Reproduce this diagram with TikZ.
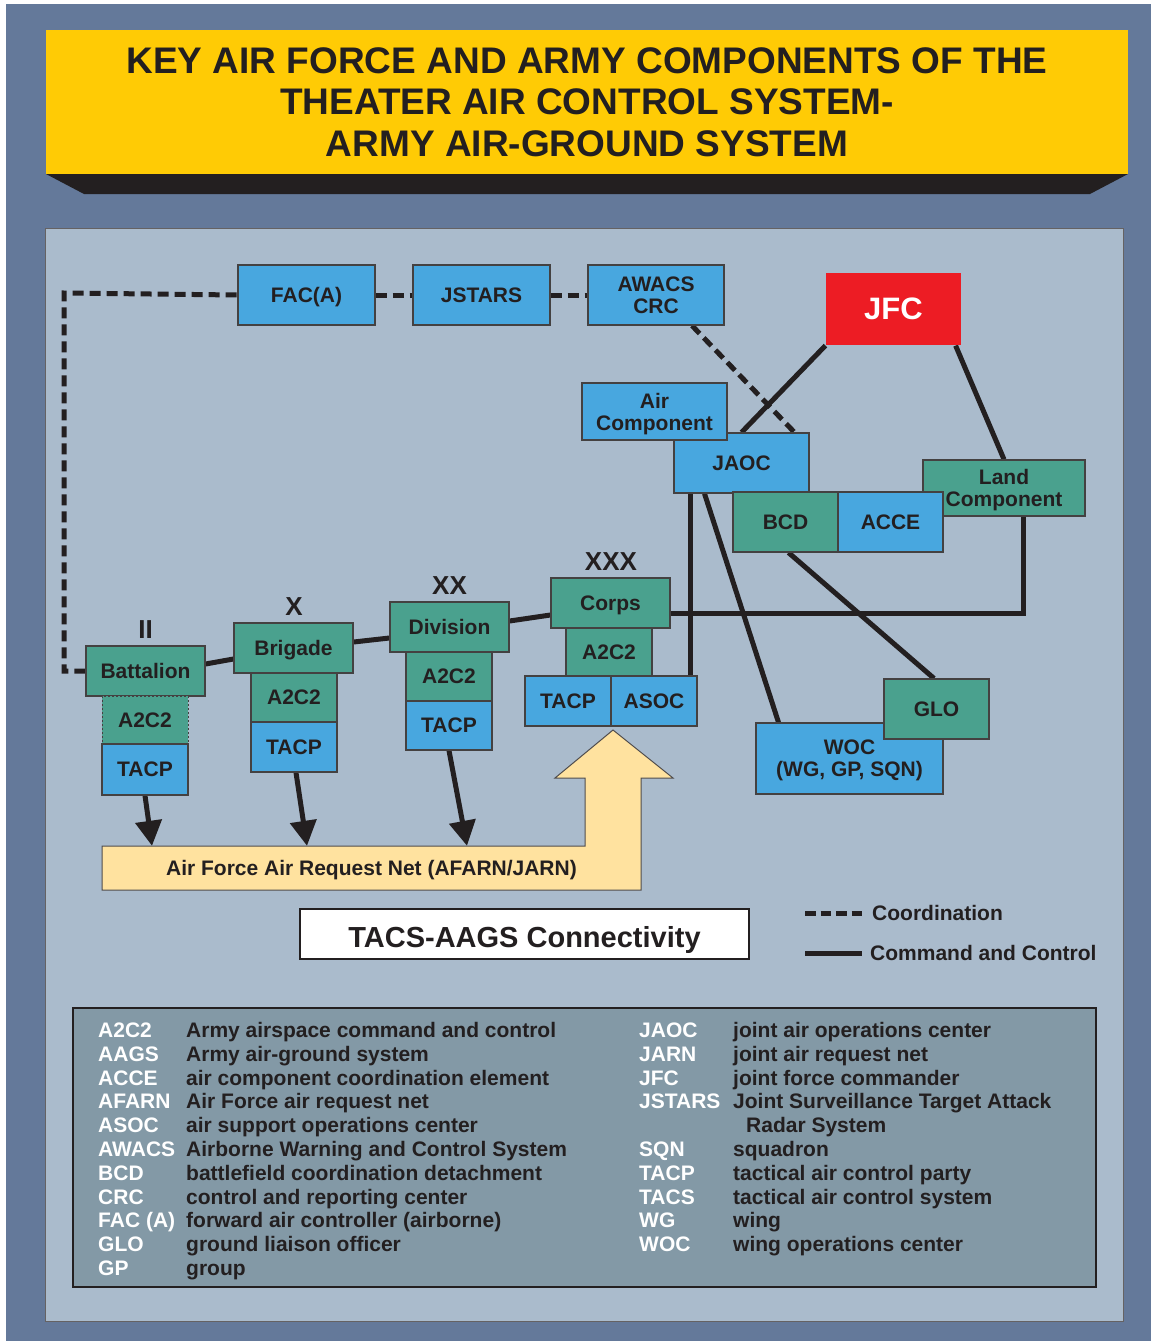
\documentclass[tikz,border=0pt]{standalone}
\usepackage{fontspec}
\setmainfont{Liberation Sans}
\usetikzlibrary{arrows.meta}
\pgfdeclarelayer{bg}
\pgfdeclarelayer{lines}
\pgfsetlayers{bg,lines,main}
\definecolor{slate}{HTML}{64799A}
\definecolor{panel}{HTML}{AABBCC}
\definecolor{ttl}{HTML}{FFCB05}
\definecolor{bl}{HTML}{48A7DF}
\definecolor{gr}{HTML}{4AA18E}
\definecolor{jred}{HTML}{ED1C24}
\definecolor{reqtan}{HTML}{FFE29F}
\definecolor{gls}{HTML}{8399A6}
\definecolor{ink}{HTML}{231F20}
\newcommand\fsz[2]{\fontsize{#1}{#2}\selectfont}
\begin{document}
\begin{tikzpicture}[x=1pt,y=-1pt,
  nbox/.style={draw=ink!85, line width=1.2pt, inner sep=0pt, align=center, text=ink, text depth=0pt, font=\bfseries\fsz{21}{22}},
  bbox/.style={nbox, fill=bl},
  gbox/.style={nbox, fill=gr},
  cc/.style={draw=ink, line width=5pt},
  coordln/.style={draw=ink, line width=5pt, dash pattern=on 11pt off 6pt},
  rank/.style={font=\bfseries\fsz{26}{28}, text=ink, inner sep=0pt},
  ab/.style={anchor=base west, inner sep=0pt, text=white, font=\bfseries\fsz{21}{22}},
  df/.style={anchor=base west, inner sep=0pt, text=ink, font=\bfseries\fsz{21}{22}},
  lgtext/.style={anchor=west, inner sep=0pt, text=ink, font=\bfseries\fsz{21}{22}}
  ]
\useasboundingbox (0,0) rectangle (1151,1341);
\begin{pgfonlayer}{bg}
  \fill[white] (0,0) rectangle (1151,1341);
  \fill[slate] (6,4) rectangle (1151,1341);
  % title
  \fill[ink] (46,174) -- (1128,174) -- (1090,194) -- (84,194) -- cycle;
  \fill[ttl] (46,30) rectangle (1128,174);
  % panel
  \filldraw[fill=panel, draw=ink!70, line width=1pt] (45,228) rectangle (1123,1321);
  % request net with up arrow
  \filldraw[fill=reqtan, draw=ink!80, line width=1pt]
    (102,890) -- (641,890) -- (641,778) -- (673,778) -- (613,730) -- (555,778)
    -- (585,778) -- (585,846) -- (102,846) -- cycle;
  % glossary box
  \filldraw[fill=gls, draw=ink, line width=2.5pt] (73,1008) rectangle (1096,1287);
\end{pgfonlayer}

\node[font=\bfseries\fsz{37}{41.5}, align=center, text=ink, inner sep=0pt] (title) at (587,102)
  {KEY AIR FORCE AND ARMY COMPONENTS OF THE\\THEATER AIR CONTROL SYSTEM-\\ARMY AIR-GROUND SYSTEM};

% top row
\node[bbox, minimum width=137pt, minimum height=60pt] (fac) at (306.5,295) {FAC(A)};
\node[bbox, minimum width=137pt, minimum height=60pt] (jstars) at (481.5,295) {JSTARS};
\node[bbox, minimum width=136pt, minimum height=60pt] (awacs) at (656,295) {AWACS\\CRC};
\node[nbox, fill=jred, draw=none, text=white, font=\bfseries\fsz{31}{32}, minimum width=135pt, minimum height=72pt] (jfc) at (893.5,309) {JFC};

% air side
\node[bbox, minimum width=135pt, minimum height=60pt] (jaoc) at (741.5,463) {JAOC};
\node[bbox, minimum width=145pt, minimum height=57pt] (air) at (654.5,411.5) {Air\\Component};
\node[gbox, minimum width=162pt, minimum height=56pt] (land) at (1004,488) {Land\\Component};
\node[gbox, minimum width=105pt, minimum height=60pt] (bcd) at (785.5,522) {BCD};
\node[bbox, minimum width=105pt, minimum height=60pt] (acce) at (890.5,522) {ACCE};

% corps
\node[gbox, minimum width=119pt, minimum height=50pt] (corps) at (610.5,603) {Corps};
\node[gbox, minimum width=86pt, minimum height=48pt] (ca2c2) at (609,652) {A2C2};
\node[bbox, minimum width=86pt, minimum height=50pt] (ctacp) at (568,701) {TACP};
\node[bbox, minimum width=86pt, minimum height=50pt] (asoc) at (654,701) {ASOC};

% division
\node[gbox, minimum width=119pt, minimum height=50pt] (div) at (449.5,627) {Division};
\node[gbox, minimum width=86pt, minimum height=49pt] (da2c2) at (449,676.5) {A2C2};
\node[bbox, minimum width=86pt, minimum height=49pt] (dtacp) at (449,725.5) {TACP};

% brigade
\node[gbox, minimum width=119pt, minimum height=50pt] (brig) at (293.5,648) {Brigade};
\node[gbox, minimum width=86pt, minimum height=49pt] (ba2c2) at (294,697.5) {A2C2};
\node[bbox, minimum width=86pt, minimum height=50pt] (btacp) at (294,747) {TACP};

% battalion
\node[gbox, minimum width=119pt, minimum height=50pt] (batt) at (145.5,671) {Battalion};
\node[gbox, minimum width=86pt, minimum height=48pt, line width=1pt, dash pattern=on 2pt off 2pt] (xa2c2) at (145,720) {A2C2};
\node[bbox, minimum width=86pt, minimum height=51pt] (xtacp) at (145,769.5) {TACP};

% WOC / GLO
\node[bbox, minimum width=187pt, minimum height=71pt] (woc) at (849.5,758.5) {WOC\\(WG, GP, SQN)};
\node[gbox, minimum width=105pt, minimum height=60pt] (glo) at (936.5,709) {GLO};

% rank symbols
\node[rank] (r2) at (145.5,630) {II};
\node[rank] (r10) at (294,607) {X};
\node[rank] (r20) at (449.5,585.5) {XX};
\node[rank] (r30) at (611,562) {XXX};

% request net text
\node[inner sep=0pt, minimum width=539pt, minimum height=44pt, text depth=0pt, font=\bfseries\fsz{21}{22}, text=ink] (afarn) at (371.5,868)
  {Air Force Air Request Net (AFARN/JARN)};

% connectivity title
\node[draw=ink, line width=2pt, fill=white, minimum width=449pt, minimum height=50pt, inner sep=0pt,
  text height=26.8pt, text depth=0pt, font=\bfseries\fsz{29}{30}, text=ink] (tacs) at (524.5,934) {TACS-AAGS Connectivity};

% legend
\coordinate (lg1a) at (805,913);
\coordinate (lg1b) at (862,913);
\coordinate (lg2a) at (805,953);
\coordinate (lg2b) at (862,953);
\node[lgtext] (lgc) at (872,913) {Coordination};
\node[lgtext] (lgk) at (870,953) {Command and Control};

% connectors
\begin{pgfonlayer}{lines}
  \draw[cc] ([yshift=7pt]batt.east) -- ([yshift=-11pt]brig.west);
  \draw[cc] ([yshift=6pt]brig.east) -- ([yshift=-11pt]div.west);
  \draw[cc] ([yshift=6pt]div.east) -- ([yshift=-12pt]corps.west);
  \draw[cc] ([yshift=-10pt]corps.east) -| ([xshift=19pt]land.south);
  \draw[cc] ([xshift=-7pt]asoc.north east) -- ([xshift=-7pt]asoc.north east |- jaoc.south);
  \draw[cc] ([xshift=-37pt]jaoc.south) -- ([xshift=-71pt]woc.north);
  \draw[cc] ([xshift=3pt]bcd.south) -- ([xshift=-2.5pt]glo.north);
  \draw[cc] (jfc.south west) -- (jaoc.north);
  \draw[cc] ([xshift=-6pt]jfc.south east) -- (land.north);
  \draw[coordln] ([xshift=36pt]awacs.south) -- ([xshift=53pt]jaoc.north);
  \coordinate (lc) at (64,293);
  \draw[coordln] (batt.west) -| (lc) -- (fac.west);
  \draw[coordln] (fac.east) -- (jstars.west);
  \draw[coordln] (jstars.east) -- (awacs.west);
  \draw[cc, -{Triangle[width=26pt,length=25pt]}] (xtacp.south) -- ([xshift=-219.5pt]afarn.north);
  \draw[cc, -{Triangle[width=26pt,length=25pt]}] ([xshift=2pt]btacp.south) -- ([xshift=-64.5pt]afarn.north);
  \draw[cc, -{Triangle[width=26pt,length=25pt]}] (dtacp.south) -- ([xshift=95.5pt]afarn.north);
  \draw[coordln, dash pattern=on 10.5pt off 5pt] (lg1a) -- (lg1b);
  \draw[cc] (lg2a) -- (lg2b);
\end{pgfonlayer}

% glossary
\foreach \i/\a/\d in {0/A2C2/Army airspace command and control,
  1/AAGS/Army air-ground system,
  2/ACCE/air component coordination element,
  3/AFARN/Air Force air request net,
  4/ASOC/air support operations center,
  5/AWACS/Airborne Warning and Control System,
  6/BCD/battlefield coordination detachment,
  7/CRC/control and reporting center,
  8/FAC (A)/forward air controller (airborne),
  9/GLO/ground liaison officer,
  10/GP/group}{
  \node[ab] (gla\i) at (98,{1037.5+23.8*\i}) {\a};
  \node[df] (gld\i) at (186,{1037.5+23.8*\i}) {\d};
}
\foreach \i/\a/\d in {0/JAOC/joint air operations center,
  1/JARN/joint air request net,
  2/JFC/joint force commander,
  3/JSTARS/Joint Surveillance Target Attack,
  5/SQN/squadron,
  6/TACP/tactical air control party,
  7/TACS/tactical air control system,
  8/WG/wing,
  9/WOC/wing operations center}{
  \node[ab] (gra\i) at (639,{1037.5+23.8*\i}) {\a};
  \node[df] (grd\i) at (733,{1037.5+23.8*\i}) {\d};
}
\node[df] (grd4) at (746,{1037.5+23.8*4}) {Radar System};
\end{tikzpicture}
\end{document}
